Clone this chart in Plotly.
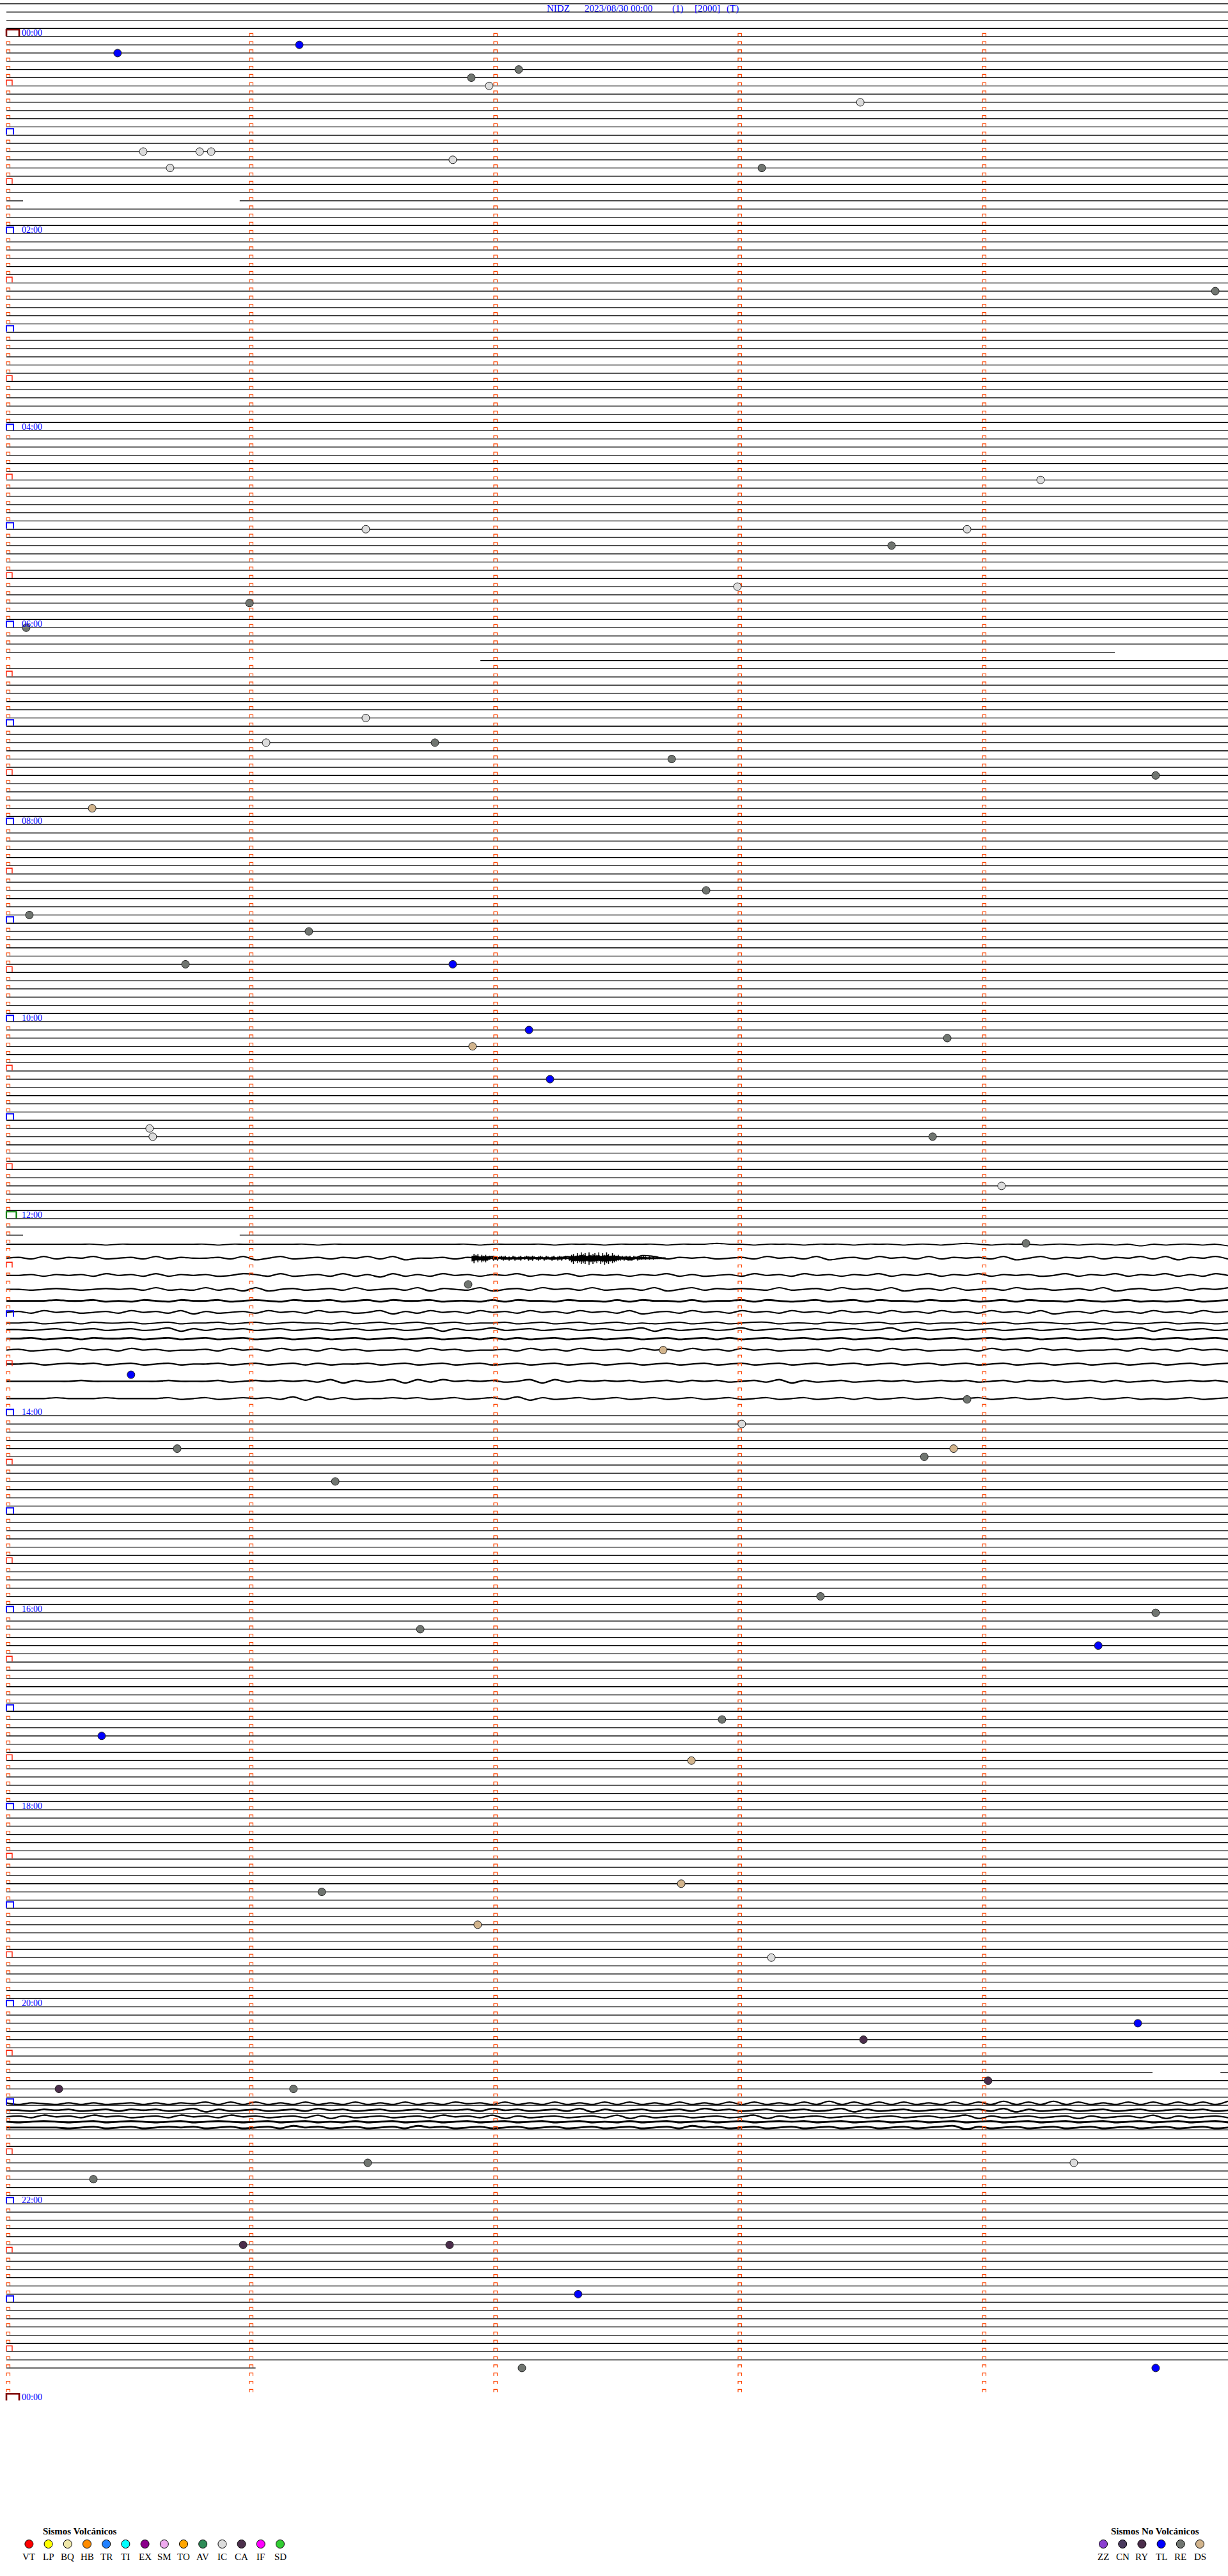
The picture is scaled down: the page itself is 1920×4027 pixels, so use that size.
import plotly.graph_objects as go

# ======================= DATA =======================
TITLE_PARTS = ["NIDZ", "2023/08/30 00:00", "(1)", "[2000]", "(T)"]

MINUTES_PER_LINE = 5
FIRST_LINE = -4          # traces drawn above the 00:00 line
LAST_LINE = 284          # last trace with data
LAST_LINE_END_MIN = 1.02 # data stops here on the last trace
N_SLOTS = 288            # 24 h x 12 five-minute lines

HOUR_LABELS = ["00:00", "02:00", "04:00", "06:00", "08:00", "10:00", "12:00",
               "14:00", "16:00", "18:00", "20:00", "22:00", "00:00"]

# data gaps: line index, from minute, to minute
gap_line = [20, 75, 76, 146, 248]
gap_from = [0.068, 4.537, 0.000, 0.068, 4.691]
gap_to   = [0.955, 5.000, 1.940, 0.955, 4.969]

# classified events: line index, minute within line, type
ev_line = [1, 2, 4, 5, 6, 8, 14, 14, 14, 15, 16, 16, 31, 54, 60, 60, 62, 67, 69, 72,
           83, 86, 86, 88, 90, 94, 104, 107, 109, 113, 113, 121, 122, 123, 127, 133,
           134, 134, 140, 147, 152, 160, 163, 166, 169, 172, 172, 173, 176, 190, 192,
           194, 196, 205, 207, 210, 225, 226, 230, 234, 242, 244, 249, 250, 250, 259,
           259, 261, 269, 269, 275, 284, 284]
ev_min = [1.199, 0.455, 2.097, 1.903, 1.976, 3.495, 0.560, 0.791, 0.838, 1.827, 0.670,
          3.092, 4.948, 4.233, 1.471, 3.932, 3.623, 2.992, 0.995, 0.081, 1.471, 1.063,
          1.754, 2.723, 4.704, 0.351, 2.864, 0.094, 1.238, 0.733, 1.827, 2.139, 3.851,
          1.908, 2.225, 0.586, 0.599, 3.791, 4.073, 4.173, 1.890, 2.688, 0.510, 3.932,
          3.010, 0.699, 3.877, 3.757, 1.346, 3.332, 4.704, 1.694, 4.469, 2.929, 0.390,
          2.804, 2.762, 1.291, 1.929, 3.131, 4.631, 3.508, 4.018, 0.215, 1.175, 1.479,
          4.369, 0.356, 0.969, 1.814, 2.340, 2.110, 4.704]
ev_type = ["TL", "TL", "RE", "RE", "IC", "IC", "IC", "IC", "IC", "IC", "IC", "RE", "RE",
           "IC", "IC", "IC", "RE", "IC", "RE", "RE", "IC", "IC", "RE", "RE", "RE", "DS",
           "RE", "RE", "RE", "RE", "TL", "TL", "RE", "DS", "TL", "IC", "IC", "RE", "IC",
           "RE", "RE", "DS", "TL", "RE", "IC", "RE", "DS", "RE", "RE", "RE", "RE", "RE",
           "TL", "RE", "TL", "DS", "DS", "RE", "DS", "IC", "TL", "RY", "RY", "RY", "RE",
           "RE", "IC", "RE", "RY", "RY", "TL", "RE", "TL"]

VOLC_CODES = ["VT", "LP", "BQ", "HB", "TR", "TI", "EX", "SM", "TO", "AV", "IC", "CA", "IF", "SD"]
VOLC_COLORS = ["#FF0000", "#FFFF00", "#EEE6A8", "#FF8C00", "#2080FF", "#00FFFF", "#8B008B",
               "#EEAAEE", "#FFA500", "#2E8B57", "#DCDCDC", "#4B2F4B", "#FF00FF", "#32CD32"]
NOVOLC_CODES = ["ZZ", "CN", "RY", "TL", "RE", "DS"]
NOVOLC_COLORS = ["#8A3FD0", "#4A3A5E", "#4B2D4B", "#0000FF", "#707570", "#D2B48C"]

# noisy traces 12:00-14:00 : baseline (line units) and sampled offsets (digit 5 = baseline)
band1_base = [147.1, 148.8, 150.9, 152.6, 154.0, 155.4, 156.7, 157.5, 158.6, 160.0, 161.7, 163.8, 165.9]
band1_width = [1.8, 2.2, 2.2, 2.2, 2.8, 2.2, 2.0, 2.2, 2.8, 2.2, 2.4, 2.4, 2.2]
band1_wave = [
    "555555556555555556555555565555555555556555556555655556555455655565556555655654565556556556575655657",
    "546364536546364554637536546453637554645365456364537236454654635463754635463645463753645364536374536",
    "554645463546364546534636546364736463546453645364546453646546354635464536453645364546536453645364635",
    "556545654546365636473754654636546374563754635463654637536454563654635463754636546354654637546536453",
    "555545546564564554654564554654645546556464556455646455646554645654654645564554654645564565465654654",
    "546354654635463746546354635465374635463546354635463754635463546354635463546354635463754635463546354",
    "554654645546546554654654556465465465465546546546546565465465446556456546546554654654565464565465565",
    "556546546546537464546546546546546537465365465465465374654653654654654653746546546546546546537465465",
    "554654645546546546546546546546546546546464654654654654654646546546546546546546546546546546546546546",
    "546546354635465546354635463546554635465546354635546354635463546554635463546554635463546554635463546",
    "554654546546546554654654646554654654654654654654654654654654654654654654654654654654654654654654654",
    "555555455555545554654545463746537363545465373645454654645465463746546545465454654645465464654654546",
    "555545554555546546545463736465545465465463746546546546546546546546546465465465465465465465465654654",
]
# seismic burst on the second noisy trace: start/end minute, spike heights above / below (px-steps)
burst_from, burst_to = 1.906, 2.696
burst_up = ("35452434" "2313212323121321231232132123213212312321312"
            "45364756374564736475364" "34232323132122321212121111")
burst_dn = ("46353545" "3213231232132132231213231232132123213231213"
            "57465767485756475867465" "43323232321322121212111111")

# noisy traces around 21:00
band2_base = [251.8, 252.6, 253.4, 254.0, 254.7]
band2_width = [2.2, 2.6, 2.4, 2.6, 2.8]
band2_wave = [
    "464564646546464536363646364636463646354636463646363646364636364636263636364636362636263646363636362",
    "556454654645465374654654635465465465546354654637465465463546546546537465465465463746546546546545465",
    "546354635465463546354654637465465463546374654654637465465465374654654654654653746546547465463746546",
    "565456546545654654565465465646546546546546546546564654654654654546546546546546546546546546546546546",
    "555556546546545465465463546546546354654654654654654654635465465465465465465437465465465465465465465",
]

# ======================= GEOMETRY / STYLE =======================
W, H = 1920, 4027
X0, PX_MIN = 10.0, 382.0       # pixel of minute 0, pixels per minute
Y0, PX_LINE = 57.3, 12.833     # pixel of line 0, pixels per line
WAVE_STEP_PX = 1.3


def mx(px):
    return (px - X0) / PX_MIN


def iy(py):
    return (py - Y0) / PX_LINE


fig = go.Figure()

band1_lines = set(range(147, 168))

# ---------- flat traces ----------
lx, ly = [], []
for i in range(FIRST_LINE, LAST_LINE + 1):
    if i in band1_lines:
        continue
    start = mx(0) if i == FIRST_LINE else 0.0
    end = LAST_LINE_END_MIN if i == LAST_LINE else float(MINUTES_PER_LINE)
    pieces = [(start, end)]
    for gl, g0, g1 in zip(gap_line, gap_from, gap_to):
        if gl == i:
            new = []
            for a, b in pieces:
                if g0 > a:
                    new.append((a, min(b, g0)))
                if g1 < b:
                    new.append((max(a, g1), b))
            pieces = new
    for a, b in pieces:
        lx += [a, b, None]
        ly += [i, i, None]
fig.add_trace(go.Scatter(x=lx, y=ly, mode="lines", line=dict(color="black", width=1.3),
                         hoverinfo="skip"))

# ---------- noisy traces ----------
def wave_trace(base, s, width):
    n = len(s)
    xs = [MINUTES_PER_LINE * j / (n - 1) for j in range(n)]
    ys = [base + (int(c) - 5) * WAVE_STEP_PX / PX_LINE for c in s]
    fig.add_trace(go.Scatter(x=xs, y=ys, mode="lines",
                             line=dict(color="black", width=width, shape="spline", smoothing=0.9),
                             hoverinfo="skip"))


for b, s, w in zip(band1_base, band1_wave, band1_width):
    wave_trace(b, s, w)
for b, s, w in zip(band2_base, band2_wave, band2_width):
    wave_trace(b, s, w)

# burst: dark core envelope plus dense vertical spikes
bb = band1_base[1]
n_up, n_dn = len(burst_up), len(burst_dn)
ux = [burst_from + (burst_to - burst_from) * j / (n_up - 1) for j in range(n_up)]
dx = [burst_from + (burst_to - burst_from) * j / (n_dn - 1) for j in range(n_dn)]
core_up = [bb - 0.55 * int(c) * WAVE_STEP_PX / PX_LINE for c in burst_up]
core_dn = [bb + 0.55 * int(c) * WAVE_STEP_PX / PX_LINE for c in burst_dn]
fig.add_trace(go.Scatter(x=ux + dx[::-1], y=core_up + core_dn[::-1], mode="lines", fill="toself",
                         fillcolor="black", line=dict(color="black", width=1), hoverinfo="skip"))
sx, sy = [], []
for xs_, s, sign in ((ux, burst_up, -1), (dx, burst_dn, 1)):
    for x, c in zip(xs_, s):
        sx += [x, x, None]
        sy += [bb, bb + sign * int(c) * WAVE_STEP_PX / PX_LINE, None]
fig.add_trace(go.Scatter(x=sx, y=sy, mode="lines", line=dict(color="black", width=1.6),
                         hoverinfo="skip"))

# ---------- tick caps ----------
def caps(items, color, width):
    xs, ys = [], []
    gap = 0.8 / PX_LINE
    for x_left, w_px, h_px, i in items:
        w = w_px / PX_MIN
        h = h_px / PX_LINE
        xs += [x_left, x_left, x_left + w, x_left + w, None]
        ys += [i - gap, i - h, i - h, i - gap, None]
    fig.add_trace(go.Scatter(x=xs, y=ys, mode="lines", line=dict(color=color, width=width),
                             hoverinfo="skip"))


orange, red, blue, green, maroon = [], [], [], [], []
for i in range(N_SLOTS + 1):
    if i < N_SLOTS:
        for k in range(1, MINUTES_PER_LINE):
            orange.append((k - 2.0 / PX_MIN, 5.5, 5, i))
    if i % 144 == 0:
        if i == 144:
            green.append((0.0, 15.5, 11, i))
        else:
            maroon.append((0.0, 20, 11, i))
    elif i % 12 == 0:
        blue.append((0.0, 11, 10, i))
    elif i % 6 == 0:
        red.append((0.0, 9, 9, i))
    else:
        orange.append((0.0, 5.5, 5, i))
caps(orange, "#FF4500", 1.2)
caps(red, "#FF1A00", 1.4)
caps(blue, "#0000FF", 2.0)
caps(green, "#008000", 2.2)
caps(maroon, "#800000", 2.6)

# ---------- events ----------
color_of = dict(zip(VOLC_CODES, VOLC_COLORS))
color_of.update(dict(zip(NOVOLC_CODES, NOVOLC_COLORS)))
for code in sorted(set(ev_type)):
    xs = [m for m, t in zip(ev_min, ev_type) if t == code]
    ys = [l for l, t in zip(ev_line, ev_type) if t == code]
    fig.add_trace(go.Scatter(x=xs, y=ys, mode="markers",
                             marker=dict(size=12, color=color_of[code],
                                         line=dict(color="#202020", width=1)),
                             hoverinfo="skip"))

# ---------- annotations ----------
ann = []
title_px = [853, 912, 1049, 1084, 1134]
for txt, px in zip(TITLE_PARTS, title_px):
    ann.append(dict(x=mx(px), y=iy(13), text=txt, showarrow=False, xanchor="left",
                    yanchor="middle", font=dict(family="Liberation Serif", size=15, color="#0000FF"),
                    ))
for n, lab in enumerate(HOUR_LABELS):
    i = n * 24
    ann.append(dict(x=mx(32), y=i - 6.0 / PX_LINE, text=lab, showarrow=False, xanchor="left",
                    yanchor="middle", font=dict(family="Liberation Serif", size=14, color="#0000FF")))

# legend
def legend(codes, colors, x_first, header, header_x):
    xs = [mx(x_first + 30.2 * j) for j in range(len(codes))]
    fig.add_trace(go.Scatter(x=xs, y=[iy(3977)] * len(xs), mode="markers",
                             marker=dict(size=13, color=colors, line=dict(color="black", width=1)),
                             hoverinfo="skip"))
    for x, c in zip(xs, codes):
        ann.append(dict(x=x, y=iy(3997), text=c, showarrow=False, xanchor="center", yanchor="middle",
                        font=dict(family="Liberation Serif", size=15, color="black")))
    ann.append(dict(x=mx(header_x), y=iy(3957), text="<b>" + header + "</b>", showarrow=False,
                    xanchor="center", yanchor="middle",
                    font=dict(family="Liberation Serif", size=15, color="black")))


legend(VOLC_CODES, VOLC_COLORS, 45.4, "Sismos Volcánicos", 125)
legend(NOVOLC_CODES, NOVOLC_COLORS, 1725, "Sismos No Volcánicos", 1806)

fig.update_layout(
    width=W, height=H, margin=dict(l=0, r=0, t=0, b=0, pad=0),
    paper_bgcolor="white", plot_bgcolor="white", showlegend=False,
    annotations=ann,
    xaxis=dict(range=[mx(0), mx(W)], visible=False, fixedrange=True),
    yaxis=dict(range=[iy(H), iy(0)], visible=False, fixedrange=True),
)

fig.write_html("out.html", config={"displayModeBar": False},
               post_script="document.body.style.margin='0';")
